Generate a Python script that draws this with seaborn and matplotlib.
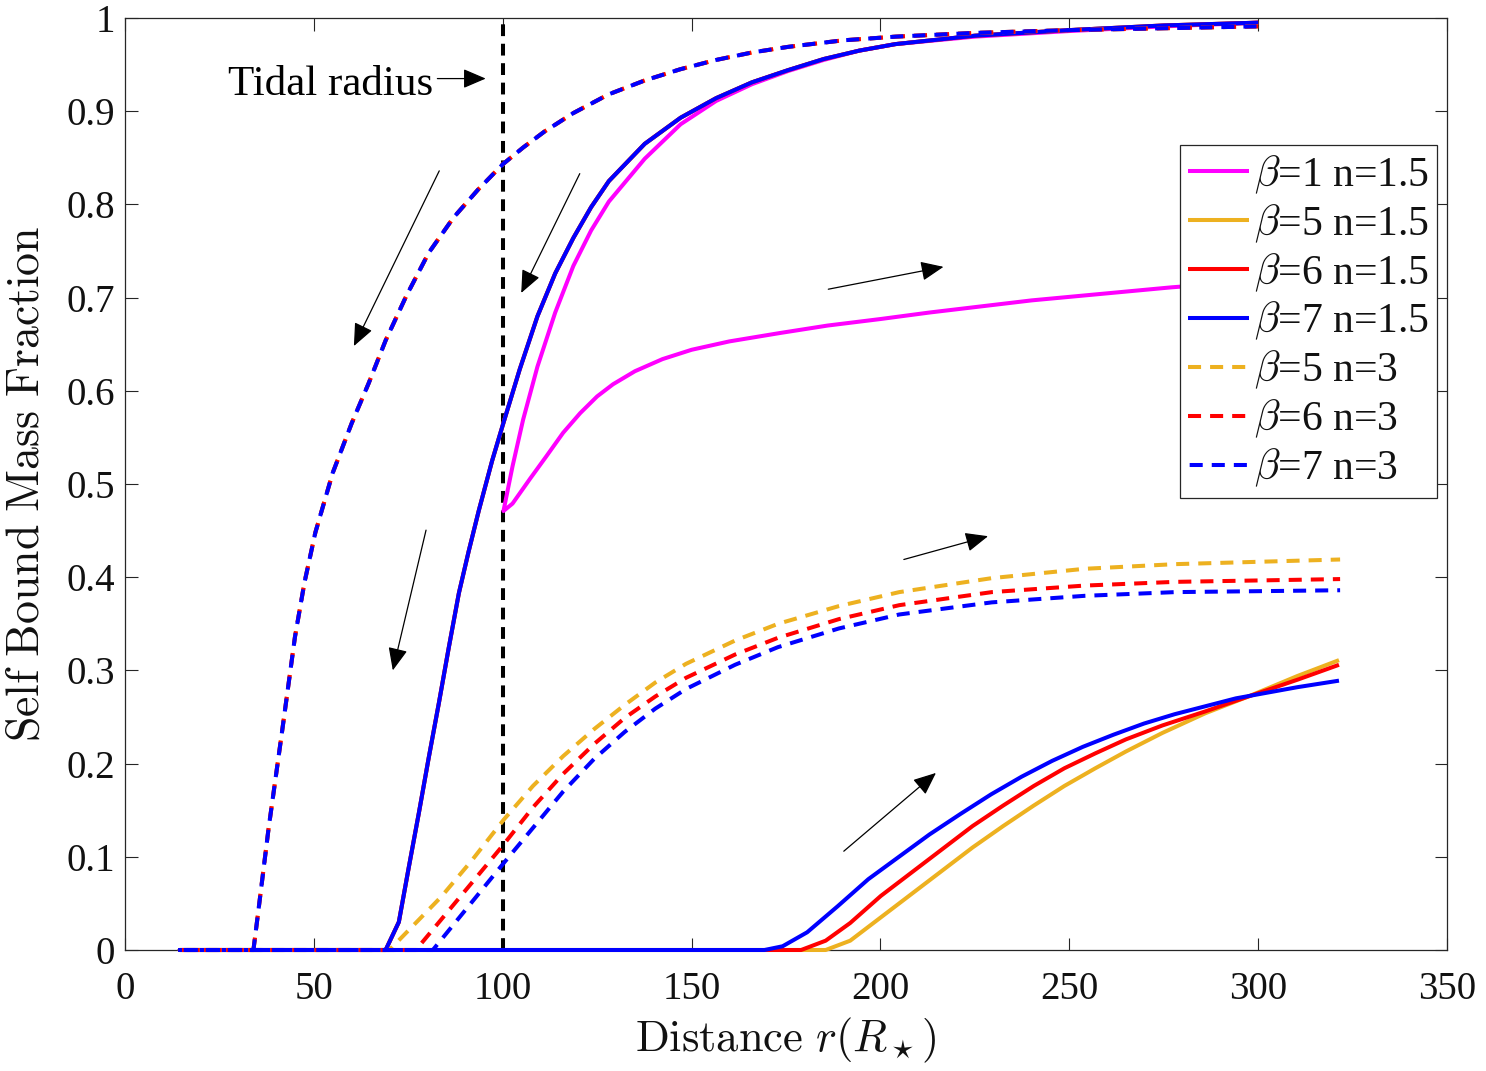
import numpy as np
import matplotlib
matplotlib.use("Agg")
import matplotlib.pyplot as plt
import seaborn as sns
from matplotlib.ticker import FuncFormatter

# ---------------- data ----------------
r_min = 14.5  # smallest distance reached by all tracks

# beta=1, n=1.5 (magenta): upper branch and lower branch, both from the cusp at r~100
r_b1_up = [100.2, 100.7, 102.6, 105.4, 109.2, 113.9, 118.7, 123.4, 128.1, 137.6,
           147.1, 156.5, 166.0, 175.5, 185.0, 194.4, 204.0, 225.0, 250.0, 275.0, 300.0]
f_b1_up = [0.471, 0.481, 0.519, 0.569, 0.626, 0.684, 0.734, 0.772, 0.803, 0.849,
           0.886, 0.911, 0.929, 0.943, 0.955, 0.965, 0.972, 0.980, 0.986, 0.991, 0.995]
r_b1_low = [100.2, 102.6, 107.3, 111.6, 116.0, 120.5, 125.0, 129.2, 135.0, 142.3,
            150.0, 160.0, 173.4, 186.0, 200.0, 213.0, 240.0, 277.0, 300.0, 322.0]
f_b1_low = [0.471, 0.479, 0.506, 0.530, 0.555, 0.576, 0.594, 0.607, 0.621, 0.634,
            0.644, 0.653, 0.662, 0.670, 0.677, 0.684, 0.697, 0.711, 0.718, 0.724]

# n=1.5, beta=5,6,7 share the same inward (upper) branch
r_up_n15 = [69.0, 72.5, 75.1, 77.8, 80.4, 83.1, 85.7, 88.4, 91.0, 93.7, 97.2, 100.0,
            104.5, 109.2, 113.9, 118.7, 123.4, 128.1, 137.6, 147.1, 156.5, 166.0,
            175.5, 185.0, 194.4, 204.0, 225.0, 250.0, 275.0, 300.0]
f_up_n15 = [0.0, 0.03, 0.088, 0.147, 0.206, 0.265, 0.324, 0.383, 0.428, 0.472, 0.525,
            0.563, 0.623, 0.68, 0.726, 0.764, 0.797, 0.825, 0.865, 0.893, 0.914, 0.931,
            0.944, 0.956, 0.965, 0.972, 0.981, 0.987, 0.992, 0.995]

# n=1.5 outward (lower) branches
r_b5_n15 = [r_min, 185.5, 192.0, 200.1, 208.2, 216.3, 224.4, 232.5, 240.6, 248.7, 256.9,
            265.0, 274.7, 286.0, 297.4, 310.4, 321.4]
f_b5_n15 = [0.0, 0.0, 0.01, 0.035, 0.06, 0.085, 0.11, 0.133, 0.155, 0.176, 0.195,
            0.213, 0.233, 0.254, 0.272, 0.294, 0.311]
r_b6_n15 = [r_min, 179.0, 185.5, 192.0, 200.1, 208.2, 216.3, 224.4, 232.5, 240.6, 248.7,
            256.9, 265.0, 274.7, 286.0, 297.4, 310.4, 321.4]
f_b6_n15 = [0.0, 0.0, 0.01, 0.029, 0.058, 0.083, 0.108, 0.133, 0.155, 0.176, 0.195,
            0.211, 0.226, 0.241, 0.256, 0.272, 0.29, 0.306]
r_b7_n15 = [r_min, 169.3, 174.1, 180.6, 188.7, 196.8, 204.9, 213.0, 221.2, 229.3, 237.4,
            245.5, 253.6, 261.7, 269.8, 277.9, 294.1, 310.4, 321.4]
f_b7_n15 = [0.0, 0.0, 0.004, 0.019, 0.047, 0.076, 0.10, 0.124, 0.146, 0.167, 0.186,
            0.203, 0.218, 0.231, 0.243, 0.253, 0.27, 0.282, 0.289]

# n=3, beta=5,6,7 share the same inward (upper) branch
r_up_n3 = [34.0, 35.4, 38.0, 41.5, 45.0, 47.5, 50.4, 55.0, 60.0, 64.5, 69.0, 74.5,
           80.4, 87.0, 93.5, 100.0, 105.4, 111.0, 118.7, 128.0, 137.6, 147.0, 156.5,
           166.0, 175.5, 190.0, 204.0, 225.0, 250.0, 275.0, 300.0]
f_up_n3 = [0.0, 0.045, 0.13, 0.232, 0.336, 0.394, 0.448, 0.512, 0.565, 0.608, 0.654,
           0.702, 0.748, 0.786, 0.816, 0.843, 0.861, 0.878, 0.898, 0.918, 0.933, 0.945,
           0.955, 0.963, 0.969, 0.976, 0.980, 0.984, 0.987, 0.989, 0.991]

# n=3 outward (lower) branches
r_b5_n3 = [r_min, 70.0, 83.7, 91.8, 100.3, 108.0, 116.0, 124.2, 132.3, 140.4, 148.5,
           161.5, 172.9, 189.0, 205.0, 229.5, 254.0, 278.0, 321.7]
f_b5_n3 = [0.0, 0.0, 0.057, 0.096, 0.14, 0.176, 0.208, 0.237, 0.263, 0.287, 0.307,
           0.332, 0.350, 0.369, 0.384, 0.399, 0.409, 0.414, 0.419]
r_b6_n3 = [r_min, 77.0, 91.8, 100.0, 108.0, 116.0, 124.2, 132.3, 140.4, 148.5, 161.5,
           172.9, 189.0, 205.0, 229.5, 254.0, 278.0, 321.7]
f_b6_n3 = [0.0, 0.0, 0.072, 0.112, 0.153, 0.189, 0.221, 0.249, 0.272, 0.292, 0.317,
           0.335, 0.355, 0.370, 0.384, 0.391, 0.395, 0.398]
r_b7_n3 = [r_min, 81.5, 100.0, 108.0, 116.0, 124.2, 132.3, 140.4, 148.5, 161.5, 172.9,
           189.0, 205.0, 229.5, 254.0, 278.0, 321.7]
f_b7_n3 = [0.0, 0.0, 0.092, 0.131, 0.170, 0.205, 0.234, 0.259, 0.280, 0.306, 0.325,
           0.345, 0.360, 0.373, 0.380, 0.384, 0.386]

tidal_r = [100.0, 100.0]
tidal_f = [0.0, 1.0]

labels = [r"$\beta$=1 n=1.5", r"$\beta$=5 n=1.5", r"$\beta$=6 n=1.5", r"$\beta$=7 n=1.5",
          r"$\beta$=5 n=3", r"$\beta$=6 n=3", r"$\beta$=7 n=3"]

x_ticks = [0, 50, 100, 150, 200, 250, 300, 350]
y_ticks = [0.0, 0.1, 0.2, 0.3, 0.4, 0.5, 0.6, 0.7, 0.8, 0.9, 1.0]


def track(up_r, up_f, low_r, low_f):
    """Inward branch (from large r to small r) followed by the outward branch."""
    x = list(up_r[::-1]) + list(low_r)
    y = list(up_f[::-1]) + list(low_f)
    return np.array(x), np.array(y)


# ---------------- style ----------------
sns.set_theme(style="white")
plt.rcParams["font.family"] = ["Liberation Serif", "DejaVu Serif"]
plt.rcParams["mathtext.fontset"] = "cm"
plt.rcParams["lines.scale_dashes"] = False
plt.rcParams["text.color"] = "#111111"
plt.rcParams["axes.labelcolor"] = "#111111"
plt.rcParams["xtick.color"] = "#262626"
plt.rcParams["ytick.color"] = "#262626"

MAGENTA = "#FF00FF"
ORANGE = "#EDB120"
RED = "#FF0000"
BLUE = "#0000FF"

fig = plt.figure(figsize=(14.86, 10.71), dpi=100)
ax = fig.add_axes([125 / 1486, 121 / 1071, 1322 / 1486, 932 / 1071])

LW = 2.9
DASH = (9.4, 6.5)
period = DASH[0] + DASH[1]

# tidal radius line (drawn first, under the curves)
sns.lineplot(x=tidal_r, y=tidal_f, ax=ax, color="black", lw=2.9, sort=False,
             estimator=None, label="_nolegend_", zorder=2.6)
ax.lines[-1].set_linestyle((0, (8.5, 5.5)))

series = [
    (track(r_b1_up, f_b1_up, r_b1_low, f_b1_low), MAGENTA, None),
    (track(r_up_n15, f_up_n15, r_b5_n15, f_b5_n15), ORANGE, None),
    (track(r_up_n15, f_up_n15, r_b6_n15, f_b6_n15), RED, None),
    (track(r_up_n15, f_up_n15, r_b7_n15, f_b7_n15), BLUE, None),
    (track(r_up_n3, f_up_n3, r_b5_n3, f_b5_n3), ORANGE, 0.0),
    (track(r_up_n3, f_up_n3, r_b6_n3, f_b6_n3), RED, 0.0),
    (track(r_up_n3, f_up_n3, r_b7_n3, f_b7_n3), BLUE, period - 1.2),
]

for ((x, y), col, off), lab in zip(series, labels):
    sns.lineplot(x=x, y=y, ax=ax, color=col, lw=LW, sort=False, estimator=None,
                 label=lab, zorder=3)
    ln = ax.lines[-1]
    ln.set_clip_on(False)
    ln.set_solid_capstyle("butt")
    ln.set_solid_joinstyle("round")
    if off is not None:
        ln.set_linestyle((off, DASH))
        ln.set_dash_capstyle("butt")

# ---------------- axes ----------------
ax.set_xlim(0, 350)
ax.set_ylim(0, 1)
ax.set_xticks(x_ticks)
ax.set_yticks(y_ticks)
ax.xaxis.set_major_formatter(FuncFormatter(lambda v, _: "%d" % round(v)))
ax.yaxis.set_major_formatter(FuncFormatter(lambda v, _: "%g" % round(v, 1)))
ax.tick_params(direction="in", length=9, width=0.8, top=True, right=True,
               bottom=True, left=True, labelsize=28, labelcolor="#111111")
ax.tick_params(axis="x", pad=15)
ax.tick_params(axis="y", pad=7)
for sp in ax.spines.values():
    sp.set_color("#262626")
    sp.set_linewidth(0.9)
    sp.set_visible(True)

ax.set_xlabel(r"$\mathrm{Distance}\ r(R_\star)$", fontsize=32, labelpad=6)
ax.set_ylabel(r"$\mathrm{Self\ Bound\ Mass\ Fraction}$", fontsize=33, labelpad=13)

# ---------------- annotations ----------------
ax.text(54.5, 0.917, "Tidal radius", ha="center", va="baseline", fontsize=31,
        color="black", zorder=6)
arrows = [((82.7, 0.935), (95.5, 0.935)),
          ((83.2, 0.836), (60.6, 0.648)),
          ((120.4, 0.833), (104.9, 0.705)),
          ((79.7, 0.4505), (70.9, 0.300)),
          ((186.2, 0.709), (216.7, 0.733)),
          ((206.2, 0.419), (228.5, 0.444)),
          ((190.3, 0.106), (214.7, 0.190))]
for tail, head in arrows:
    ax.annotate("", xy=head, xytext=tail,
                arrowprops=dict(arrowstyle="-|>,head_length=0.7,head_width=0.3",
                                color="black", lw=0.9, shrinkA=0, shrinkB=0,
                                mutation_scale=20),
                zorder=6)

# ---------------- legend ----------------
leg = ax.legend(loc="upper right", bbox_to_anchor=(0.9924, 0.8637), fontsize=30,
                frameon=True, fancybox=False, framealpha=1, edgecolor="#262626",
                borderpad=0.2, labelspacing=0.16, handlelength=1.45,
                handletextpad=0.12, borderaxespad=0)
leg.get_frame().set_linewidth(0.9)
leg.set_zorder(10)

fig.savefig("out.png", dpi=100)
